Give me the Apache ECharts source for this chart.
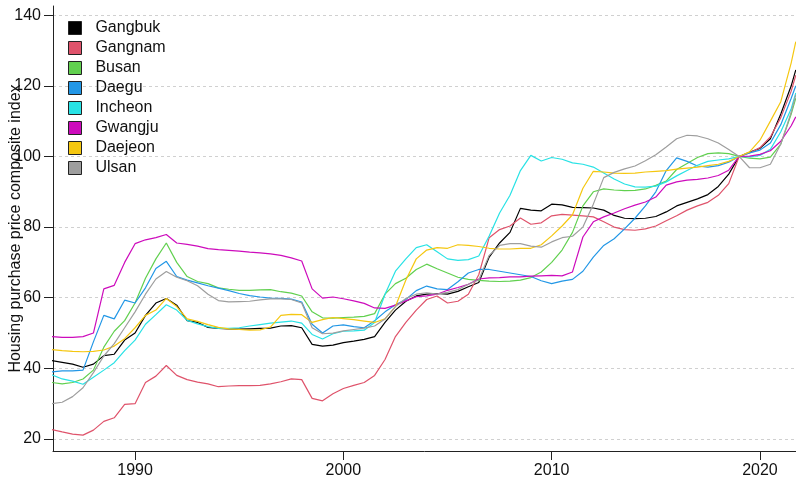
<!DOCTYPE html>
<html>
<head>
<meta charset="utf-8">
<script src="https://cdn.jsdelivr.net/npm/echarts@6/dist/echarts.min.js"></script>
<style>
  html, body { margin: 0; padding: 0; background: #fff; }
  #main { width: 796px; height: 483px; }
</style>
</head>
<body>
<div id="main"></div>
<script>
// half-year sampling of the index, base 2019 = 100
var years = [1986.0, 1986.5, 1987.0, 1987.5, 1988.0, 1988.5, 1989.0, 1989.5, 1990.0, 1990.5,
  1991.0, 1991.5, 1992.0, 1992.5, 1993.0, 1993.5, 1994.0, 1994.5, 1995.0, 1995.5,
  1996.0, 1996.5, 1997.0, 1997.5, 1998.0, 1998.5, 1999.0, 1999.5, 2000.0, 2000.5,
  2001.0, 2001.5, 2002.0, 2002.5, 2003.0, 2003.5, 2004.0, 2004.5, 2005.0, 2005.5,
  2006.0, 2006.5, 2007.0, 2007.5, 2008.0, 2008.5, 2009.0, 2009.5, 2010.0, 2010.5,
  2011.0, 2011.5, 2012.0, 2012.5, 2013.0, 2013.5, 2014.0, 2014.5, 2015.0, 2015.5,
  2016.0, 2016.5, 2017.0, 2017.5, 2018.0, 2018.5, 2019.0, 2019.5, 2020.0, 2020.5,
  2021.0, 2021.5, 2021.72];

var gangbuk = [42.2, 41.7, 41.2, 40.3, 41.2, 43.6, 44.0, 48.0, 50.0, 55.0, 58.5, 59.8, 57.9,
  53.5, 53.0, 51.6, 51.3, 51.2, 51.1, 51.2, 51.3, 51.4, 52.0, 52.1, 51.5, 46.8, 46.3,
  46.6, 47.3, 47.7, 48.2, 49.0, 53.0, 56.5, 59.0, 60.5, 61.0, 61.2, 61.0, 61.8, 63.1,
  64.3, 71.5, 75.5, 78.5, 85.3, 84.8, 84.6, 86.5, 86.3, 85.6, 85.5, 85.4, 84.8, 83.3,
  82.5, 82.4, 82.5, 83.0, 84.3, 86.0, 87.0, 88.0, 89.2, 91.5, 95.0, 100.0, 101.2, 102.3,
  105.0, 112.0, 120.0, 124.5];
var gangnam = [22.7, 22.0, 21.4, 21.1, 22.5, 25.0, 26.0, 29.8, 30.0, 36.0, 37.8, 40.8, 38.0,
  36.8, 36.1, 35.6, 34.8, 35.0, 35.1, 35.1, 35.2, 35.6, 36.2, 37.0, 36.8, 31.5, 30.8,
  32.8, 34.3, 35.2, 36.0, 38.0, 42.5, 49.0, 53.0, 56.5, 59.5, 60.5, 58.5, 59.0, 61.0,
  66.5, 77.0, 79.3, 80.3, 82.6, 80.8, 81.2, 83.2, 83.6, 83.4, 83.2, 82.9, 81.5, 80.0,
  79.3, 79.1, 79.5, 80.3, 81.8, 83.2, 84.8, 86.0, 87.0, 89.0, 92.3, 100.0, 101.0, 102.5,
  105.5, 111.0, 118.5, 123.0];
var busan = [36.0, 35.6, 36.0, 37.0, 39.5, 46.0, 50.5, 53.5, 58.5, 65.5, 71.0, 75.5, 70.0,
  66.0, 64.6, 64.0, 62.8, 62.4, 62.1, 62.1, 62.2, 62.3, 61.7, 61.3, 60.5, 56.0, 54.3,
  54.2, 54.4, 54.5, 54.7, 55.5, 61.0, 64.0, 65.5, 68.0, 69.5, 68.2, 67.0, 65.8, 65.2,
  64.9, 64.7, 64.6, 64.7, 65.0, 65.7, 67.3, 70.0, 73.5, 78.5, 86.0, 90.0, 90.8, 90.5,
  90.3, 90.4, 90.8, 91.8, 93.0, 96.3, 98.0, 99.7, 100.8, 101.0, 100.8, 100.0, 99.5, 99.3,
  99.8, 103.5, 112.0, 116.5];
var daegu = [39.0, 39.3, 39.3, 39.5, 47.5, 55.0, 54.0, 59.3, 58.5, 62.8, 68.3, 70.3, 66.0,
  65.0, 64.2, 63.4, 62.7, 62.0, 61.2, 60.6, 60.2, 59.9, 59.8, 59.6, 58.8, 52.5, 50.0,
  52.0, 52.3, 51.8, 51.5, 53.5, 56.0, 58.0, 59.5, 62.0, 63.3, 62.5, 62.3, 64.5, 67.0,
  68.0, 68.0, 67.5, 67.0, 66.5, 66.0, 64.8, 64.0, 64.7, 65.2, 67.5, 71.5, 74.8, 76.7,
  79.5, 82.5, 86.0, 90.0, 96.0, 99.6, 98.6, 97.3, 97.0, 97.4, 98.4, 100.0, 101.0, 101.8,
  103.8, 109.0, 116.5, 120.0];
var incheon = [38.2, 37.0, 36.4, 35.5, 37.5, 39.5, 41.6, 45.0, 48.0, 52.5, 55.2, 58.0, 56.5,
  53.6, 52.6, 51.8, 51.3, 51.3, 51.5, 52.0, 52.4, 52.8, 53.1, 53.4, 52.8, 49.6, 48.3,
  49.8, 50.5, 50.6, 50.8, 53.0, 61.0, 67.5, 71.0, 74.2, 75.0, 73.0, 71.0, 70.6, 70.8,
  71.8, 77.5, 84.0, 89.0, 96.0, 100.3, 98.7, 99.7, 99.2, 98.2, 97.8, 97.0, 95.3, 93.6,
  92.2, 91.4, 91.3, 91.6, 92.8, 94.5, 96.0, 97.5, 98.6, 99.0, 99.3, 100.0, 99.9, 100.3,
  102.0, 107.0, 113.5, 118.0];
var gwangju = [49.0, 48.8, 48.8, 49.0, 50.0, 62.5, 63.5, 70.0, 75.3, 76.4, 77.0, 77.9, 75.5,
  75.1, 74.6, 73.9, 73.6, 73.4, 73.2, 72.9, 72.7, 72.4, 72.0, 71.3, 70.4, 62.5, 59.9,
  60.2, 59.7, 59.1, 58.4, 57.1, 57.0, 57.9, 59.1, 60.3, 60.5, 61.0, 62.1, 62.9, 63.8,
  65.3, 65.6, 65.7, 65.9, 65.9, 66.1, 66.2, 66.3, 66.2, 67.3, 77.2, 81.5, 82.9, 84.0,
  85.2, 86.2, 87.1, 88.5, 91.9, 92.8, 93.3, 93.5, 93.9, 94.6, 96.1, 100.0, 100.1, 100.6,
  101.6, 104.3, 108.7, 111.2];
var daejeon = [45.3, 45.0, 44.8, 44.7, 44.8, 45.2, 46.3, 48.4, 51.5, 55.0, 56.5, 59.8, 57.5,
  54.0, 53.3, 52.4, 51.6, 51.2, 51.0, 50.8, 50.9, 51.7, 55.0, 55.3, 55.2, 53.0, 53.8,
  54.4, 54.1, 53.8, 53.4, 53.0, 54.0, 57.5, 65.0, 71.0, 73.5, 74.2, 74.0, 75.0, 74.8,
  74.5, 74.0, 73.8, 73.8, 74.0, 74.0, 75.0, 77.5, 80.3, 83.5, 91.0, 95.8, 95.6, 95.3,
  95.2, 95.3, 95.6, 95.8, 96.0, 96.4, 96.7, 97.0, 97.4, 97.8, 98.6, 100.0, 101.3, 104.6,
  110.0, 115.5, 126.5, 132.5];
var ulsan = [30.0, 30.4, 32.0, 34.5, 38.8, 43.5, 47.0, 51.5, 56.0, 61.0, 65.3, 67.4, 65.8,
  64.8, 63.4, 61.0, 59.2, 58.8, 58.9, 59.0, 59.4, 59.7, 59.7, 59.5, 58.5, 51.5, 49.8,
  50.0, 50.6, 51.0, 51.4, 52.0, 54.0, 57.5, 59.8, 61.0, 61.4, 61.0, 61.5, 62.3, 63.8,
  65.0, 72.0, 74.8, 75.3, 75.3, 74.6, 74.3, 75.8, 77.0, 77.4, 80.0, 86.5, 94.0, 95.5,
  96.5, 97.3, 98.8, 100.5, 102.7, 105.0, 106.0, 105.8, 105.0, 103.8, 102.0, 100.0, 96.8, 96.8,
  97.8, 103.5, 112.5, 117.5];

var regions = ['Gangbuk', 'Gangnam', 'Busan', 'Daegu', 'Incheon', 'Gwangju', 'Daejeon', 'Ulsan'];
var values = [gangbuk, gangnam, busan, daegu, incheon, gwangju, daejeon, ulsan];
var colors = ['#000000', '#DF536B', '#61D04F', '#2297E6', '#28E2E5', '#CD0BBC', '#F5C710', '#9E9E9E'];

var xTicks = [1990, 2000, 2010, 2020];
var yTicks = [20, 40, 60, 80, 100, 120, 140];

var font = 'Liberation Sans, Arial, Helvetica, sans-serif';

var chart = echarts.init(document.getElementById('main'), null, { renderer: 'canvas' });

var series = regions.map(function (name, k) {
  return {
    name: name,
    type: 'line',
    data: years.map(function (x, i) { return [x, values[k][i]]; }),
    showSymbol: false,
    symbol: 'none',
    color: colors[k],
    lineStyle: { width: 1.2, color: colors[k] },
    itemStyle: { color: colors[k] },
    emphasis: { disabled: true },
    clip: true
  };
});

var option = {
  animation: false,
  backgroundColor: '#ffffff',
  grid: { left: 53, right: 0, top: 6, bottom: 32, containLabel: false, outerBoundsMode: 'none' },
  legend: {
    orient: 'vertical',
    left: 68,
    top: 20,
    padding: 0,
    itemGap: 4,
    itemWidth: 13,
    itemHeight: 13,
    icon: 'rect',
    itemStyle: { borderColor: '#222', borderWidth: 1 },
    formatter: function (name) { return '  ' + name; },
    textStyle: { fontSize: 16, color: '#111', fontFamily: font },
    selectedMode: false,
    data: regions
  },
  xAxis: {
    type: 'value',
    min: 1986.06,
    max: 2021.73,
    axisLine: { show: true, onZero: false, lineStyle: { color: '#222', width: 1 } },
    axisTick: { show: true, length: 9, customValues: xTicks, lineStyle: { color: '#222' } },
    axisLabel: {
      customValues: xTicks, fontSize: 16, color: '#111', margin: 12, fontFamily: font,
      formatter: function (v) { return String(v); }
    },
    splitLine: { show: false }
  },
  yAxis: {
    type: 'value',
    min: 16.6,
    max: 142.6,
    name: 'Housing purchase price composite index',
    nameLocation: 'middle',
    nameGap: 29,
    nameMoveOverlap: false,
    nameTextStyle: { fontSize: 16, color: '#111', fontFamily: font },
    axisLine: { show: true, onZero: false, lineStyle: { color: '#222', width: 1 } },
    axisTick: { show: true, length: 9, customValues: yTicks, lineStyle: { color: '#222' } },
    axisLabel: { customValues: yTicks, fontSize: 16, color: '#111', margin: 12, fontFamily: font },
    splitLine: {
      show: true,
      customValues: yTicks,
      lineStyle: { color: '#d0d0d0', type: [3, 3], width: 1 }
    }
  },
  series: series
};

chart.setOption(option);
</script>
</body>
</html>
